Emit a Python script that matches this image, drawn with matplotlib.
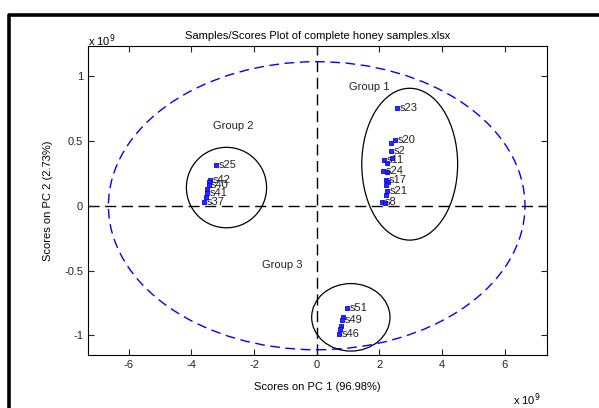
import matplotlib
matplotlib.use("Agg")
import matplotlib.pyplot as plt
from matplotlib.patches import Ellipse
from matplotlib.lines import Line2D

plt.rcParams['font.family'] = ['Liberation Sans', 'DejaVu Sans']

# sample scores (units of 1e9)
names = ["s23", "s20", "", "s2", "s11", "", "", "s24", "", "s17", "", "", "s21", "", "s8", "",
         "s25", "s42", "", "s40", "", "s41", "", "s37",
         "s51", "", "s49", "", "", "s46"]
pc1 = [2.56, 2.50, 2.38, 2.38, 2.15, 2.42, 2.25, 2.12, 2.25, 2.22, 2.28, 2.20, 2.25, 2.20, 2.10, 2.18,
       -3.20, -3.40, -3.45, -3.45, -3.50, -3.50, -3.55, -3.60,
       0.96, 0.85, 0.82, 0.78, 0.75, 0.72]
pc2 = [0.75, 0.51, 0.48, 0.42, 0.35, 0.37, 0.33, 0.27, 0.26, 0.20, 0.18, 0.16, 0.11, 0.08, 0.03, 0.02,
       0.315, 0.20, 0.18, 0.16, 0.13, 0.10, 0.07, 0.03,
       -0.79, -0.86, -0.88, -0.93, -0.95, -0.99]

# group ellipses: center x, center y, width, height (1e9)
grp_names = ["Group 1", "Group 2", "Group 3"]
grp_cx = [2.97, -2.88, 1.09]
grp_cy = [0.32, 0.14, -0.86]
grp_w = [3.06, 2.56, 2.50]
grp_h = [1.17, 0.62, 0.52]
grp_lx = [1.69, -2.68, -1.09]
grp_ly = [0.915, 0.615, -0.46]

# confidence ellipse (1e9)
conf_w = 13.3
conf_h = 2.22

xticks = [-6, -4, -2, 0, 2, 4, 6]
yticks = [-1, -0.5, 0, 0.5, 1]

fig = plt.figure(figsize=(5.99, 4.08), dpi=100)
ax = fig.add_axes([0.147, 0.130, 0.766, 0.757])
ax.set_xlim(-7.3, 7.35)
ax.set_ylim(-1.15, 1.23)

ax.axhline(0, color='black', lw=1.0, ls=(0, (8, 4)), zorder=1)
ax.axvline(0, color='black', lw=1.0, ls=(0, (8, 4)), zorder=1)

ax.add_patch(Ellipse((0, 0), conf_w, conf_h, fill=False, edgecolor='blue',
                     lw=1.0, ls=(0, (7, 4)), zorder=2))
for cx, cy, w, h in zip(grp_cx, grp_cy, grp_w, grp_h):
    ax.add_patch(Ellipse((cx, cy), w, h, fill=False, edgecolor='black', lw=0.9, zorder=2))
for n, x, y in zip(grp_names, grp_lx, grp_ly):
    ax.text(x, y, n, fontsize=8, ha='center', va='center', color='#222222')

ax.plot(pc1, pc2, ls='none', marker='s', ms=2.2, mfc='#2a2aff', mec='blue', mew=0.6, zorder=3)
for n, x, y in zip(names, pc1, pc2):
    if n:
        ax.text(x + 0.08, y, n, fontsize=8, ha='left', va='center', color='#222222', zorder=4)

ax.set_xticks(xticks)
ax.set_xticklabels([str(v) for v in xticks])
ax.set_yticks(yticks)
ax.set_yticklabels(["-1", "-0.5", "0", "0.5", "1"])
ax.tick_params(direction='in', top=True, right=True, length=4, width=0.8,
               labelsize=8, colors='#222222')
for s in ax.spines.values():
    s.set_linewidth(0.8)

ax.set_xlabel("Scores on PC 1 (96.98%)", fontsize=8, labelpad=9)
ax.set_ylabel("Scores on PC 2 (2.73%)", fontsize=8, labelpad=8)
ax.set_title("Samples/Scores Plot of complete honey samples.xlsx", fontsize=8, pad=5)

fig.text(0.147, 0.900, r"x 10$^{9}$", fontsize=8, ha='left', va='center')
fig.text(0.857, 0.020, r"x 10$^{9}$", fontsize=8, ha='left', va='center')

# window frame
fx = 9 / 599
fy = 1 - 15 / 408
fig.add_artist(Line2D([fx, fx, 1.0], [0.0, fy, fy], color='black', lw=2.6,
                      transform=fig.transFigure))

fig.savefig("out.png", dpi=100)
